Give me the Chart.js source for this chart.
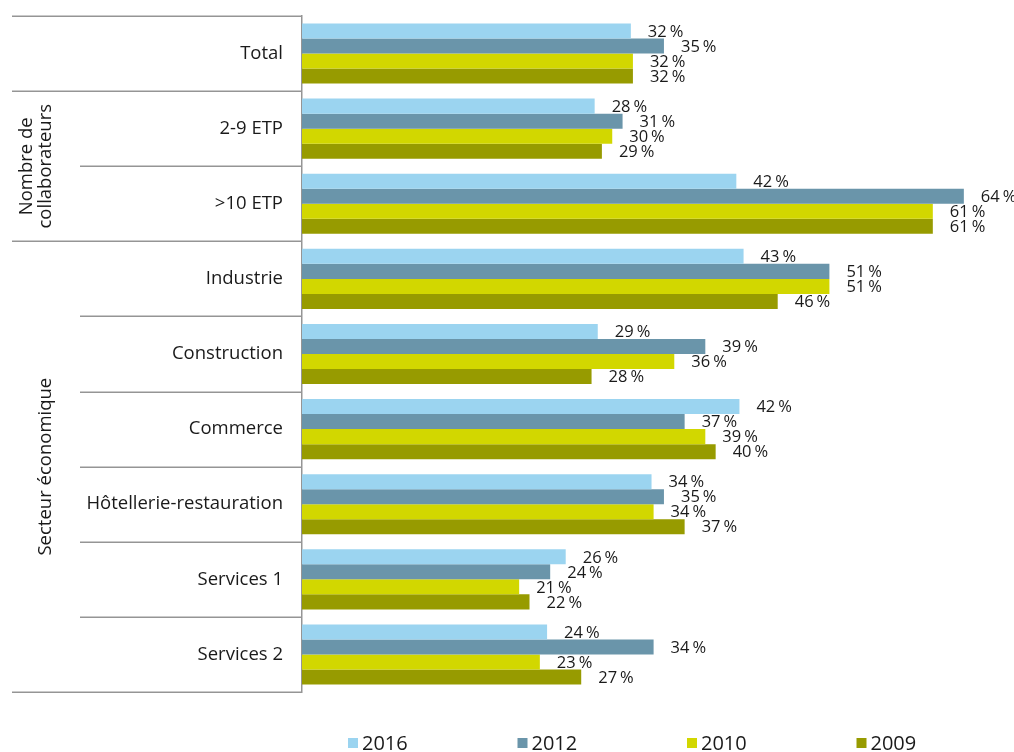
<!DOCTYPE html>
<html>
<head>
<meta charset="utf-8">
<script src="https://cdn.jsdelivr.net/npm/chart.js@4.4.1/dist/chart.umd.min.js"></script>
<style>
  html, body { margin: 0; padding: 0; background: #ffffff; }
  #wrap { position: relative; width: 1014px; height: 752px; }
  canvas { display: block; }
</style>
</head>
<body>
<div id="wrap"><canvas id="c" width="1014" height="752"></canvas></div>
<script>
// ---- data ----
const categories = ["Total", "2-9 ETP", ">10 ETP", "Industrie", "Construction", "Commerce", "Hôtellerie-restauration", "Services 1", "Services 2"];
const seriesNames = ["2016", "2012", "2010", "2009"];
const values2016 = [31.8, 28.3, 42.0, 42.7, 28.6, 42.3, 33.8, 25.5, 23.7];
const values2012 = [35, 31, 64, 51, 39, 37, 35, 24, 34];
const values2010 = [32, 30, 61, 51, 36, 39, 34, 21, 23];
const values2009 = [32, 29, 61, 46, 28, 40, 37, 22, 27];
const seriesColors = ["#9BD4F0", "#6A95AA", "#D2D700", "#979B00"];
// groups of categories (label lines, first index, last index)
const groupLabels = [["Nombre de", "collaborateurs"], ["Secteur économique"]];
const groupFirst = [1, 3];
const groupLast = [2, 8];

const FONT = "'Open Sans', 'Noto Sans', sans-serif";
const TEXT = "#1a1a1a";
const LINE = "#959595";

const allValues = [values2016, values2012, values2010, values2009];

const decorPlugin = {
  id: 'decor',
  afterDatasetsDraw(chart) {
    const ctx = chart.ctx;
    const y = chart.scales.y;
    const area = chart.chartArea;
    const n = categories.length;
    const half = (y.getPixelForValue(1) - y.getPixelForValue(0)) / 2;
    const boundary = i => y.getPixelForValue(i) - half; // top of band i
    ctx.save();
    // separators in the label area
    ctx.strokeStyle = LINE;
    ctx.lineWidth = 1.5;
    const fullIdx = new Set([0, n]);
    groupFirst.forEach(g => fullIdx.add(g));
    groupLast.forEach(g => fullIdx.add(g + 1));
    for (let i = 0; i <= n; i++) {
      const py = Math.round(boundary(i)) + 0.25;
      const x0 = fullIdx.has(i) ? 12 : 80;
      ctx.beginPath();
      ctx.moveTo(x0, py);
      ctx.lineTo(area.left, py);
      ctx.stroke();
    }
    // group labels (rotated)
    ctx.fillStyle = TEXT;
    ctx.font = "18.5px " + FONT;
    ctx.textAlign = 'center';
    ctx.textBaseline = 'middle';
    groupLabels.forEach((lines, gi) => {
      const cy = (boundary(groupFirst[gi]) + boundary(groupLast[gi] + 1)) / 2;
      lines.forEach((ln, li) => {
        const cx = 46 - (lines.length - 1 - li) * 19;
        ctx.save();
        ctx.translate(cx, cy);
        ctx.rotate(-Math.PI / 2);
        ctx.fillText(ln, 0, 0);
        ctx.restore();
      });
    });
    // value labels
    ctx.font = "16.5px " + FONT;
    ctx.textAlign = 'left';
    ctx.textBaseline = 'middle';
    chart.data.datasets.forEach((ds, di) => {
      const meta = chart.getDatasetMeta(di);
      meta.data.forEach((bar, i) => {
        const num = String(Math.round(ds.data[i]));
        const x = bar.x + 17;
        const yy = bar.y + 1;
        ctx.fillText(num, x, yy);
        ctx.fillText('%', x + ctx.measureText(num).width + 3, yy);
      });
    });
    // legend
    const legLeft = 348, legStep = 169.5, legY = 743;
    ctx.font = "20px " + FONT;
    ctx.textBaseline = 'middle';
    chart.data.datasets.forEach((ds, di) => {
      const lx = legLeft + di * legStep;
      ctx.fillStyle = ds.backgroundColor;
      ctx.fillRect(lx, legY - 5, 10, 10);
      ctx.fillStyle = TEXT;
      ctx.fillText(ds.label, lx + 14, legY + 1);
    });
    ctx.restore();
  }
};

new Chart(document.getElementById('c'), {
  type: 'bar',
  data: {
    labels: categories,
    datasets: seriesNames.map((name, i) => ({
      label: name,
      data: allValues[i],
      backgroundColor: seriesColors[i],
      borderWidth: 0,
      categoryPercentage: 0.8,
      barPercentage: 1.0
    }))
  },
  options: {
    indexAxis: 'y',
    responsive: false,
    animation: false,
    devicePixelRatio: 1,
    layout: { padding: { top: 16, bottom: 60, left: 0, right: 0 } },
    plugins: { legend: { display: false }, tooltip: { enabled: false } },
    scales: {
      x: { display: false, min: 0, max: 68.85 },
      y: {
        type: 'category',
        offset: true,
        grid: { display: false, drawTicks: false },
        border: { display: true, color: LINE, width: 1.5 },
        ticks: { color: TEXT, font: { family: FONT, size: 18.5 }, padding: 19 },
        afterFit(scale) { scale.width = 302; scale.paddingTop = 0; scale.paddingBottom = 0; }
      }
    }
  },
  plugins: [decorPlugin]
});
</script>
</body>
</html>
